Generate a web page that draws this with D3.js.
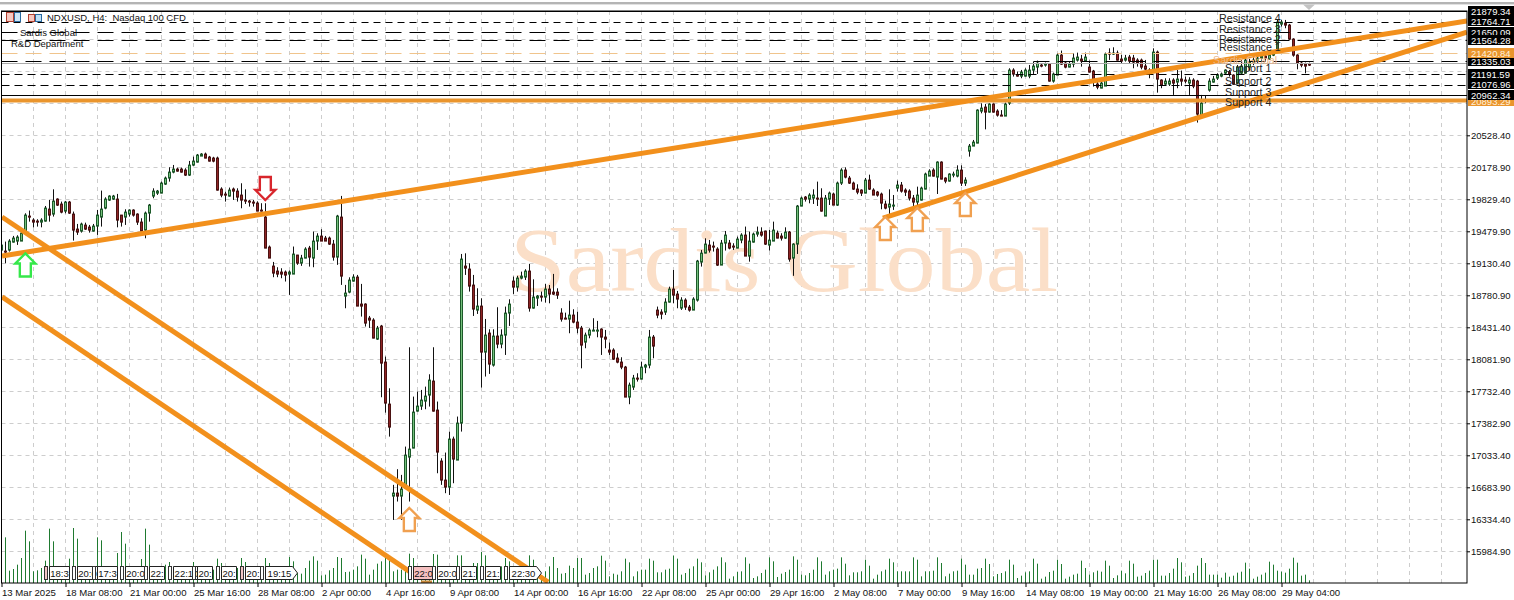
<!DOCTYPE html>
<html><head><meta charset="utf-8">
<script src="https://cdn.jsdelivr.net/npm/d3@7/dist/d3.min.js"></script>
<style>html,body{margin:0;padding:0;background:#fff;overflow:hidden}svg{display:block}text{font-family:"Liberation Sans",Arial,sans-serif}</style>
</head><body><svg id="c" width="1514" height="600"></svg>
<script>
// [open, high, low, close]
const candlesMarch = [
[19283,19538,19265,19338],[19276,19374,19137,19265],[19283,19400,19265,19385],[19378,19436,19363,19421],[19385,19443,19338,19429],[19392,19501,19385,19476],[19476,19683,19465,19665],[19654,19713,19592,19640],[19610,19629,19530,19585],[19600,19618,19538,19585],[19585,19629,19530,19610],[19610,19763,19592,19749],[19738,19829,19592,19676],[19676,19945,19647,19818],[19840,19847,19763,19778],[19785,19811,19683,19698],[19705,19818,19683,19807],[19807,19818,19676,19683],[19683,19702,19385,19512],[19520,19567,19447,19483],[19494,19581,19472,19567],[19563,19581,19501,19523],[19538,19556,19472,19509],[19501,19567,19483,19552],[19545,19720,19447,19665],[19647,19931,19538,19738],[19749,19858,19727,19844],[19829,19880,19818,19873],[19836,19884,19829,19873],[19847,19895,19530,19618],[19665,19665,19538,19592],[19654,19727,19556,19705],[19676,19727,19647,19720],[19720,19727,19647,19665],[19676,19683,19556,19592],[19592,19629,19483,19494],[19501,19702,19410,19691],[19683,19785,19592,19774],[19873,19956,19847,19927],[19909,19938,19884,19927],[19909,20029,19902,20018],[20011,20084,19993,20077],[20077,20186,20029,20142],[20138,20211,20120,20168],[20175,20182,20138,20149],[20175,20182,20127,20138],[20157,20175,20091,20102],[20102,20255,20091,20211],[20211,20302,20200,20255],[20248,20331,20237,20320],[20320,20340,20310,20339],[20339,20346,20284,20295],[20302,20310,20248,20259],[20291,20300,20240,20255],[20291,20302,19931,19938],[19953,19967,19858,19887],[19895,19920,19811,19884],[19884,19964,19865,19945],[19949,19964,19829,19927],[19931,19956,19811,19865],[19884,20011,19738,19829],[19829,19945,19785,19818],[19818,19829,19756,19807],[19811,19829,19756,19804],[19804,19814,19713,19720],[19727,19793,19702,19713],[19647,19793,19302,19309],[19320,19331,19196,19203],[19116,19152,18985,19036],[19054,19094,18985,19025],[19047,19083,18974,19025],[19050,19058,18938,19014],[19029,19058,18792,19050],[19029,19320,19021,19247],[19229,19229,19120,19145],[19145,19229,19109,19196],[19203,19312,19192,19298],[19312,19327,19101,19211],[19203,19484,19094,19385],[19385,19465,19283,19436],[19444,19509,19385,19393],[19422,19436,19385,19393]];
const candlesApril = [
[19418,19429,19338,19356],[19356,19392,19166,19210],[19203,19666,19120,19655],[19644,19873,18901,18999],[18784,18901,18646,18820],[18820,18984,18810,18955],[18948,19017,18937,18992],[18992,19010,18671,18678],[18700,18912,18555,18675],[18700,18700,18446,18489],[18544,18562,18431,18518],[18526,18537,18318,18329],[18318,18453,18300,18438],[18453,18464,17674,18052],[18060,18118,17506,17608],[17608,17772,17244,17354],[16600,16717,16334,16637],[16637,16888,16535,16600],[16600,16826,16334,16680],[16680,17135,16680,17044],[17026,18220,16535,17117],[17117,17681,17117,17514],[17528,17736,17517,17583],[17583,17754,17536,17652],[17645,17790,17543,17696],[17696,17925,17572,17863],[17852,18220,17517,17528],[17536,17627,16844,17077],[16979,17008,16717,16771],[16771,17070,16626,16698],[16698,17299,16607,17226],[17226,17244,16735,17004],[16997,17463,16990,17401],[17397,19239,17299,19192],[19108,19246,19010,19083],[19083,19137,18828,18901],[18908,19010,18562,18646],[18639,18864,18584,18679],[18679,18755,17780,18173],[18173,18529,17900,18362],[18380,18416,17929,18038],[18038,18416,18009,18351],[18351,18657,18209,18264],[18264,18416,18209,18362],[18362,18664,18136,18602],[18598,18744,18453,18700],[18944,18992,18802,18882],[18882,19000,18828,18984],[18977,19046,18962,18999],[18992,19072,18955,19053],[19053,19130,18609,18653],[18653,18962,18642,18773],[18766,18791,18671,18788],[18784,18828,18719,18773],[18773,18911,18708,18864],[18864,18900,18700,18810],[18828,19021,18791,18810],[18828,18864,18748,18791],[18602,18646,18500,18537],[18547,18598,18526,18537],[18537,18729,18373,18580],[18580,18635,18482,18500],[18500,18609,18373,18438],[18438,18453,17990,18253],[18289,18380,18209,18362],[18362,18427,18318,18416],[18413,18537,18402,18416],[18409,18508,18329,18416],[18420,18427,18136,18336],[18336,18409,18209,18318],[18198,18271,18136,18173],[18198,18209,18082,18100],[18111,18154,18045,18063],[18063,18111,17980,18009],[18009,18016,17681,17681],[17681,17834,17598,17808],[17790,17918,17754,17892],[17892,17936,17845,17878],[17878,18063,17870,18009],[18009,18038,17936,18031],[18031,18409,17990,18336],[18336,18354,18100,18238]];
const candlesLateApril = [
[18635,18664,18537,18584],[18613,18635,18526,18591],[18609,18755,18573,18719],[18719,18882,18708,18864],[18864,19064,18700,18802],[18810,18835,18646,18755],[18646,18766,18628,18737],[18737,18755,18628,18657],[18664,18682,18609,18628],[18628,18766,18628,18748],[18737,19174,18719,19163],[19155,19283,19101,19257],[19254,19410,19246,19356],[19345,19392,19254,19290],[19330,19374,19265,19319],[19301,19312,19108,19130],[19130,19392,19119,19366],[19363,19490,19276,19454],[19363,19392,19290,19308],[19326,19356,19283,19312],[19308,19428,19301,19403],[19392,19465,19356,19447],[19447,19538,19217,19221],[19217,19483,19155,19381],[19374,19472,19363,19458],[19465,19538,19428,19483],[19483,19530,19428,19454],[19490,19494,19337,19348],[19348,19501,19276,19399],[19392,19592,19385,19508],[19476,19494,19410,19421],[19439,19465,19385,19421],[19417,19530,19403,19483],[19483,19490,19155,19192],[19192,19356,19000,19348],[19348,19774,19239,19767],[19767,19865,19763,19858],[19865,19872,19811,19847],[19847,19902,19792,19891],[19854,19945,19785,19891],[19858,20029,19763,19847],[19854,19956,19701,19712],[19665,19883,19654,19858],[19847,19920,19774,19909],[19902,19909,19774,19785],[19774,20029,19763,20018],[20011,20175,19993,20156],[20156,20185,20065,20076],[20073,20091,20003,20018],[20018,20029,19938,19953],[19956,20000,19891,19920],[19938,19945,19872,19902],[19916,20069,19902,20054],[20054,20105,19938,19953],[19945,19956,19883,19894],[19920,19927,19865,19891],[19894,19909,19727,19792],[19792,19821,19727,19749],[19756,19945,19676,19785],[19767,19883,19720,19781],[19963,20040,19920,20000],[20000,20025,19909,19931],[19945,19956,19872,19920],[19927,19945,19822,19847],[19858,19883,19756,19811],[19811,19974,19592,19883],[19829,19974,19822,19960],[19953,20127,19945,20113],[20102,20164,20091,20153],[20156,20175,20084,20094],[20091,20251,19894,20251],[20251,20251,20054,20069],[20069,20076,20011,20040],[20040,20120,20029,20113],[20098,20138,20076,20113],[20098,20207,20076,20164],[20156,20207,19982,20018],[20018,20076,19982,20054]];
const candlesMay = [
[20368,20440,20302,20422],[20422,20484,20418,20462],[20455,20819,20448,20812],[20804,20884,20775,20841],[20848,20877,20600,20793],[20793,20884,20782,20877],[20877,20884,20782,20793],[20801,20819,20739,20757],[20765,20810,20746,20754],[20754,20892,20746,20885],[20885,21267,20867,21249],[21249,21267,21176,21205],[21201,21231,21176,21187],[21187,21249,21158,21231],[21187,21267,21176,21249],[21194,21303,21158,21256],[21249,21340,21205,21292],[21285,21351,21205,21329],[21311,21322,21278,21296],[21300,21329,21285,21314],[21314,21322,21121,21132],[21132,21220,21110,21212],[21205,21431,21194,21420],[21420,21460,21303,21322],[21329,21340,21267,21285],[21285,21340,21278,21322],[21322,21431,21278,21387],[21358,21438,21340,21394],[21369,21413,21285,21351],[21351,21438,21340,21394],[21285,21351,21220,21227],[21238,21249,21067,21132],[21096,21158,21038,21059],[21059,21140,21049,21110],[21085,21438,21074,21431],[21438,21485,21358,21427],[21431,21496,21413,21442],[21438,21460,21351,21358],[21369,21413,21322,21351],[21365,21413,21340,21387],[21394,21413,21322,21351],[21387,21413,21267,21340],[21358,21376,21285,21322],[21358,21373,21256,21278],[21292,21358,21249,21256],[21256,21267,21158,21242],[21256,21485,21249,21449],[21449,21460,21001,21158],[21140,21147,21049,21085],[21096,21158,21085,21132],[21103,21158,21074,21132],[21140,21158,20976,21110],[21121,21249,21049,21158],[21158,21242,21074,21132],[21147,21176,21103,21132],[21103,21169,20976,21140],[21147,21158,21049,21085],[21132,21140,20674,20768],[20757,20976,20746,20892],[20921,20965,20885,20928],[21030,21158,21012,21132],[21125,21183,21110,21158],[21158,21212,21140,21194],[21187,21220,21169,21205],[21220,21256,21194,21249],[21231,21249,21176,21212],[21194,21201,21085,21096],[21110,21303,21096,21285],[21212,21358,21194,21292],[21220,21376,21212,21358],[21290,21370,21240,21340],[21340,21400,21300,21360],[21350,21410,21320,21380],[21380,21430,21340,21400],[21400,21440,21350,21380],[21380,21440,21360,21420],[21420,21460,21400,21450],[21467,21800,21440,21777],[21751,21795,21722,21777],[21766,21795,21704,21740],[21740,21751,21576,21587],[21587,21595,21394,21413],[21413,21420,21256,21329],[21329,21340,21278,21303],[21322,21329,21212,21303],[21322,21329,21292,21311]];
const volumesEarly = [20,137,37,42,55,75,157,125,35,38,45,67,163,125,30,35,40,73,165,133,30,35,40,45,137,128,30,35,40,90,153,118,25,35,40,72,163,115,30,35,40,55,63,40,25,30,35,40,63,45,25,30,35,40,73,60,25,30,35,45,75,63,25,30,40,45,75,60,25,30,35,45,78,65,30,28,45,67,80,67,23,25,38,45,78,75,33,34,40,50,85,73,25,40,58,65,80,70,35,40,40,45,88,75,35,40,45,50,87,85,35,40,45,50,83,83,35,40,60,60,93,83,30,35,40,50,75,65,30,35,40,50,83,70,40,20,35,50,78,45,28,30,52,45,75,75,25,30,45,50];
const volumesMid = [82,67,20,28,25,35,73,62,20,35,40,40,73,67,32,32,40,43,82,73,25,30,43,50,73,62,23,32,40,50,77,62,13,20,33,35,77,58,15,20,30,40,77,65,18,28,33,40,80,70,25,23,30,40,77,65,25,35,40,43,77,58,23,32,32,35,70,52,13,25,35,40,73,62,35,35,35,35,77,70,20,35,35,37,77,60,20,28,35,37,73,55,25,25,43,45,73,57,20,27];
const volumesLate = [30,35,70,55,15,22,32,35,73,58,13,19,33,37,70,57,13,19,25,28,67,45,25,32,37,34,67,52,15,23,37,29,67,58,19,22,30,37,70,70,22,22,30,43,75,62,19,22,30,52,75,60,25,25,25,16,31,19,22,31,34,61,43,13,19,25,31,64,55,37,34,31,43,76,61,22,25];
const timeLabels = ["13 Mar 2025","18 Mar 08:00","21 Mar 00:00","25 Mar 16:00","28 Mar 08:00","2 Apr 00:00","4 Apr 16:00","9 Apr 08:00","14 Apr 00:00","16 Apr 16:00","22 Apr 08:00","25 Apr 00:00","29 Apr 16:00","2 May 08:00","7 May 00:00","9 May 16:00","14 May 08:00","19 May 00:00","21 May 16:00","26 May 08:00","29 May 04:00"];
const priceTicks = [15984.90,16334.40,16683.90,17033.40,17382.90,17732.40,18081.90,18431.40,18780.90,19130.40,19479.90,19829.40,20178.90,20528.40];
const gridOnlyPrices = [20877.90,21227.40,21576.90];
const levelPrices = [21879.34,21764.71,21650.09,21564.28,21420.84,21335.03,21191.59,21076.96,20962.34,20893.29];
const levelDash = ["", "7 5", "16 8", "16 8", "16 8", "16 8", "8 5", "8 5", "", ""];
const levelNames = ["Resistance 4","Resistance 3","Resistance 2","Resistance 1","Sardis Global","Support 1","Support 2","Support 3","Support 4"];
const levelNameRows = [18,29.5,39,47,60,68,81,92,102];
const levelNameLeft = [1219,1219,1219,1219,1213,1225,1225,1225,1225];
const trendStart = [[0.17,19210],[220.4,19625],[0.17,19636],[0.17,18763]];
const trendEnd = [[366.4,21777],[366.4,21656],[136.7,15650],[102.2,15760]];
const arrowIndex = [6,66,102,221,229,241];
const arrowPrice = [19238,19822,16458,19636,19735,19898];
const arrowDir = ["up","down","up","up","up","up"];
const arrowColor = ["#35e84a","#d8262c","#f0a050","#f0a050","#f0a050","#f0a050"];
const flagLabels = ["18:3","20:0","17:3","20:0","22:","22:10","20:","20:","20:","19:15","22:0","20:0","21:","21:","22:30"];
const flagIndex = [12,19,24,31,37,43,49,55,61,66,103,109,115,121,127];

const candles = [...candlesMarch,...candlesApril,...candlesLateApril,...candlesMay].map(r=>({o:r[0],h:r[1],l:r[2],c:r[3]}));
const volumes = [...volumesEarly,...volumesMid,...volumesLate,8];

const L=1.5,R=1467,T=11,B=583;
const svg=d3.select("#c");
const x=d3.scaleLinear().domain([0,1]).range([1.33,5.33]);
const px=i=>Math.floor(x(i))+0.5;
const y=d3.scaleLinear().domain([15984.9,20528.4]).range([551.3,135.3]);
const v=d3.scaleLinear().domain([0,165]).range([B,B-55]);

svg.append("defs").append("clipPath").attr("id","plot").append("rect").attr("x",L).attr("y",T).attr("width",R-L).attr("height",B-T);
svg.append("rect").attr("x",0).attr("y",2).attr("width",1514).attr("height",2.4).attr("fill","#b4b4b4");
svg.append("path").attr("d","M1303 4.4 L1315 4.4 L1309 10 Z").attr("fill","#c4c4c4");

// grid
const grid=svg.append("g").attr("stroke","#cdcdcd").attr("stroke-dasharray","4 4");
grid.selectAll(".gh").data([...priceTicks,...gridOnlyPrices]).join("line").attr("x1",L).attr("x2",R).attr("y1",d=>Math.round(y(d))+.5).attr("y2",d=>Math.round(y(d))+.5);
grid.selectAll(".gv").data(d3.range(0,46)).join("line").attr("x1",k=>px(k*8)).attr("x2",k=>px(k*8)).attr("y1",T).attr("y2",B);

// watermark
svg.append("text").text("Sardis Global").attr("x",510).attr("y",291).attr("textLength",548).attr("lengthAdjust","spacingAndGlyphs")
 .attr("font-size",92).style("font-family","'Liberation Serif',serif").attr("fill","#fbdfc8");

const plot=svg.append("g").attr("clip-path","url(#plot)");
// volumes
plot.append("g").selectAll("line").data(volumes).join("line")
 .attr("x1",(d,i)=>px(i)).attr("x2",(d,i)=>px(i)).attr("y1",B).attr("y2",d=>v(d)).attr("stroke","#1f7a30");
// candles
const cg=plot.append("g").attr("transform","translate(0,0.6)");
const cs=cg.selectAll("g").data(candles).join("g");
cs.append("line").attr("x1",(d,i)=>px(i)).attr("x2",(d,i)=>px(i)).attr("y1",d=>y(d.h)).attr("y2",d=>y(d.l)).attr("stroke","#111");
cs.append("rect").attr("x",(d,i)=>px(i)-1).attr("width",2)
 .attr("y",d=>Math.round(y(Math.max(d.o,d.c)))+.5)
 .attr("height",d=>Math.max(1,Math.round(Math.abs(y(d.o)-y(d.c)))))
 .attr("fill",d=>d.c>=d.o?"#74c07c":"#8f2424").attr("stroke",d=>d.c>=d.o?"#1d5a2a":"#4a1212");

// levels
const lineY=(d,i)=>Math.floor(y(d))-(i==9?1:0)+.5;
const lv=plot.append("g");
lv.selectAll("line").data(levelPrices).join("line")
 .attr("x1",L).attr("x2",R).attr("y1",lineY).attr("y2",lineY)
 .attr("stroke",(d,i)=>i==9?"#ea952d":i==4?"#f0c48c":"#000")
 .attr("stroke-width",(d,i)=>i==9?4:1)
 .attr("stroke-dasharray",(d,i)=>levelDash[i]);
plot.append("line").attr("x1",L).attr("x2",R).attr("y1",63.5).attr("y2",63.5).attr("stroke","#aaa");

// trend lines
plot.append("g").selectAll("line").data(trendStart).join("line")
 .attr("x1",d=>x(d[0])).attr("y1",d=>y(d[1]))
 .attr("x2",(d,i)=>x(trendEnd[i][0])).attr("y2",(d,i)=>y(trendEnd[i][1]))
 .attr("stroke","#f2901c").attr("stroke-width",5);

// arrows
const arrow=(cx,tip,dir)=>{const s=dir=="up"?1:-1;
 const p=[[0,0],[10,10],[5.5,10],[5.5,23],[-5.5,23],[-5.5,10],[-10,10]];
 return d3.line()(p.map(q=>[cx+q[0],tip+s*q[1]]))+"Z";};
svg.append("g").selectAll("path").data(arrowIndex).join("path")
 .attr("d",(d,i)=>arrow(x(d),y(arrowPrice[i]),arrowDir[i]))
 .attr("fill","#fff").attr("stroke",(d,i)=>arrowColor[i]).attr("stroke-width",2.4);

// level names
svg.append("g").selectAll("text").data(levelNames).join("text").text(d=>d)
 .attr("x",(d,i)=>levelNameLeft[i]).attr("y",(d,i)=>levelNameRows[i]+3.5).attr("font-size",10.7)
 .attr("fill",(d,i)=>i==4?"#eab78c":"#222");

// flags
const fw=t=>t.length==5?(t=="22:10"?26:30):t.length==4?20:15;
const fl=svg.append("g");
flagIndex.forEach((fi,k)=>{
 const t=flagLabels[k],xx=Math.round(x(fi))+.5,w=fw(t),pink=t=="22:0";
 const tip=(t=="19:15"||t=="22:30");
 fl.append("rect").attr("x",xx-5).attr("y",566.5).attr("width",3).attr("height",13).attr("fill",(k==0||k==8)?"#f4c6c6":"#fff").attr("stroke","#333");
 fl.append("path").attr("d",tip?`M${xx} 566.5H${xx+w-3}L${xx+w+2} 573L${xx+w-3} 579.5H${xx}Z`:`M${xx} 566.5H${xx+w}V579.5H${xx}Z`)
  .attr("fill",pink?"#f5c0c0":"#fff").attr("stroke","#222");
 fl.append("text").text(t).attr("x",xx+w/2-(tip?1:0)).attr("y",577).attr("text-anchor","middle").attr("font-size",9.5).attr("fill","#111");
});
svg.append("rect").attr("x",421).attr("y",580.5).attr("width",11).attr("height",2.5).attr("fill","#c98a3c");

// axes
const xa=d3.axisBottom(d3.scaleLinear().domain([0,1]).range([1.5,5.5])).tickValues(timeLabels.map((d,i)=>i*16)).tickSize(4).tickFormat((d,i)=>timeLabels[i]);
const xg=svg.append("g").attr("transform",`translate(0,${B})`).call(xa);
xg.selectAll("text").attr("text-anchor","start").attr("dy",0).attr("y",13).attr("font-size",9.6).attr("fill","#111").style("font-family","'Liberation Sans'");
xg.selectAll(".tick line").attr("stroke","#000");
xg.select(".domain").remove();
const ya=d3.axisRight(y).tickValues(priceTicks).tickSize(3).tickFormat(d3.format(".2f"));
const yg=svg.append("g").attr("transform",`translate(${R},0)`).call(ya);
yg.selectAll("text").attr("x",4).attr("font-size",9.5).attr("fill","#111").style("font-family","'Liberation Sans'");
yg.selectAll(".tick line").attr("stroke","#000");
yg.select(".domain").remove();

// plot frame
svg.append("rect").attr("x",L).attr("y",T).attr("width",R-L).attr("height",B-T).attr("fill","none").attr("stroke","#000");
// level tags: painted so the nearer-to-bottom tag hides its neighbour as in the terminal
const tagOrder = [0,1,2,3,5,4,6,7,9,8];
const tagY=p=>Math.round(y(p)-0.8);
tagOrder.forEach(i=>{
 const p=levelPrices[i],yy=tagY(p),o=i==4||i==9;
 svg.append("rect").attr("x",1468).attr("y",yy-5).attr("width",46).attr("height",i==0?11:10).attr("fill",o?"#ea952d":"#000");
 svg.append("text").text(p.toFixed(2)).attr("x",1471).attr("y",yy+3.5).attr("font-size",9.5).attr("fill",o?"#fff0dc":"#fff");
});

// header
const hd=svg.append("g");
hd.append("text").text("NDXUSD, H4:  Nasdaq 100 CFD").attr("x",47).attr("y",21).attr("font-size",9.5).attr("fill","#111").attr("xml:space","preserve");
hd.append("text").text("Sardis Global").attr("x",20).attr("y",36).attr("font-size",9.5).attr("fill","#111");
hd.append("text").text("R&D Department").attr("x",11).attr("y",47).attr("font-size",9.5).attr("fill","#111");
hd.append("rect").attr("x",6.5).attr("y",12.5).attr("width",7).attr("height",9).attr("fill","#f7c8c0").attr("stroke","#b04030");
hd.append("rect").attr("x",14.5).attr("y",12.5).attr("width",6).attr("height",9).attr("fill","#cfe6f7").attr("stroke","#2a6aa0");
hd.append("rect").attr("x",28.5).attr("y",14.5).attr("width",6).attr("height",7).attr("fill","#f7c8c0").attr("stroke","#b04030");
hd.append("rect").attr("x",35.5).attr("y",14.5).attr("width",6).attr("height",7).attr("fill","#bfe0f7").attr("stroke","#2a6aa0");
</script></body></html>
